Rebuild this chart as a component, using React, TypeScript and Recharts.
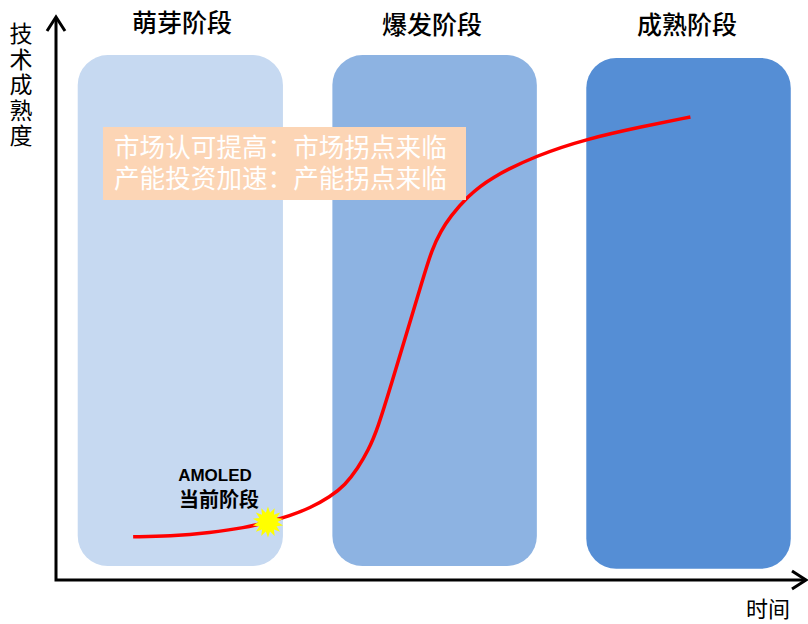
import React from "react";
import { ComposedChart, Line, XAxis, YAxis, ReferenceArea, Scatter } from "recharts";

// S-curve: time (0-100) vs technology maturity (0-100)
const curveTime = [10.3, 15.2, 20.6, 25.2, 28.3, 31.2, 33.9, 36.6, 38.6, 40.3, 41.7, 42.9, 44.9, 46.9, 48.9, 50.2, 51.4, 52.6, 54.9, 57.9, 64.2, 70.9, 78.0, 84.7];
const curveMaturity = [7.7, 7.8, 8.4, 9.3, 10.3, 11.4, 12.8, 14.8, 16.9, 19.9, 23.1, 26.7, 35.4, 44.3, 53.2, 58.9, 62.1, 64.6, 68.2, 71.5, 75.6, 78.5, 80.6, 82.4];

// stages
const stageNames = ["萌芽阶段", "爆发阶段", "成熟阶段"];
const stageStart = [2.9, 36.9, 70.8];
const stageEnd = [30.3, 64.2, 98.1];
const stageTop = [93.4, 93.4, 92.9];
const stageBottom = [2.5, 2.5, 2.0];
const stageColors = ["#C6D9F1", "#8DB3E2", "#558ED5"];

// current point (AMOLED)
const currentTime = [28.3];
const currentMaturity = [10.3];

const noteLines = ["市场认可提高：市场拐点来临", "产能投资加速：产能拐点来临"];

const curveData = curveTime.map((t, i) => ({ t, v: curveMaturity[i] }));
const currentData = currentTime.map((t, i) => ({ t, v: currentMaturity[i] }));

const CJK = '"Noto Sans CJK SC", "Noto Sans", sans-serif';
const CJK_TIGHT = '"Liberation Sans", "Noto Sans CJK SC", sans-serif';

const RoundRect = (props: any) => {
  const { x, y, width, height, fill } = props;
  return <rect x={x} y={y} width={width} height={height} rx={30} ry={30} fill={fill} stroke="none" />;
};

const Star = (props: any) => {
  const { cx, cy } = props;
  if (cx == null || cy == null) return null;
  const n = 14;
  const pts: string[] = [];
  for (let i = 0; i < n * 2; i++) {
    const r = i % 2 === 0 ? 15.5 : 9.5;
    const a = (Math.PI * i) / n - Math.PI / 2;
    pts.push(`${cx + r * Math.cos(a)},${cy + r * Math.sin(a)}`);
  }
  return <polygon points={pts.join(" ")} fill="#FFFF00" stroke="none" />;
};

export default function App() {
  return (
    <div style={{ position: "absolute", left: 0, top: 0, width: 808, height: 624, background: "#fff" }}>
      <ComposedChart
        width={808}
        height={624}
        data={curveData}
        margin={{ top: 18, right: 3, left: 56, bottom: 44 }}
      >
        <XAxis type="number" dataKey="t" domain={[0, 100]} hide allowDataOverflow />
        <YAxis type="number" domain={[0, 100]} hide allowDataOverflow />
        {stageNames.map((name, i) => (
          <ReferenceArea
            key={name}
            x1={stageStart[i]}
            x2={stageEnd[i]}
            y1={stageBottom[i]}
            y2={stageTop[i]}
            fill={stageColors[i]}
            fillOpacity={1}
            shape={<RoundRect fill={stageColors[i]} />}
          />
        ))}
        <Line
          type="basis"
          dataKey="v"
          stroke="#FF0000"
          strokeWidth={3.5}
          dot={false}
          activeDot={false}
          isAnimationActive={false}
        />
        <Scatter data={currentData} dataKey="v" shape={<Star />} isAnimationActive={false} />
      </ComposedChart>
      <svg
        width={808}
        height={624}
        style={{ position: "absolute", left: 0, top: 0, pointerEvents: "none" }}
      >
        {/* axes */}
        <polyline points="56,19 56,580 804,580" fill="none" stroke="#000" strokeWidth={3} />
        <polyline points="47,31 56,17 65,31" fill="none" stroke="#000" strokeWidth={3} />
        <polyline points="792,571 806,580 792,589" fill="none" stroke="#000" strokeWidth={3} />
        {/* stage titles */}
        {stageNames.map((name, i) => (
          <text
            key={name}
            x={[182, 432, 687][i]}
            y={[21, 23, 23][i]}
            textAnchor="middle"
            dominantBaseline="central"
            fontFamily={CJK}
            fontWeight={500}
            fontSize={25}
            fill="#000"
          >
            {name}
          </text>
        ))}
        {/* y label (vertical) */}
        <text
          x={21}
          y={22}
          fontFamily={CJK}
          fontSize={23}
          fill="#000"
          style={{ writingMode: "vertical-rl", letterSpacing: "2.5px" } as any}
        >
          技术成熟度
        </text>
        <text x={768} y={607} textAnchor="middle" dominantBaseline="central" fontFamily={CJK} fontSize={22} fill="#000">
          时间
        </text>
        {/* note box */}
        <rect x={103} y={127} width={363} height={73} fill="#FCD5B5" />
        <text x={114} y={157} fontFamily={CJK_TIGHT} fontSize={25.6} fill="#fff">
          <tspan x={114} y={157}>{noteLines[0]}</tspan>
          <tspan x={114} dy={31}>{noteLines[1]}</tspan>
        </text>
        {/* current stage label */}
        <text x={215} y={475} textAnchor="middle" dominantBaseline="central" fontFamily='"Liberation Sans", Arial, sans-serif' fontWeight="bold" fontSize={17} fill="#000">
          AMOLED
        </text>
        <text x={219} y={498} textAnchor="middle" dominantBaseline="central" fontFamily={CJK} fontWeight="bold" fontSize={20} fill="#000">
          当前阶段
        </text>
      </svg>
    </div>
  );
}
